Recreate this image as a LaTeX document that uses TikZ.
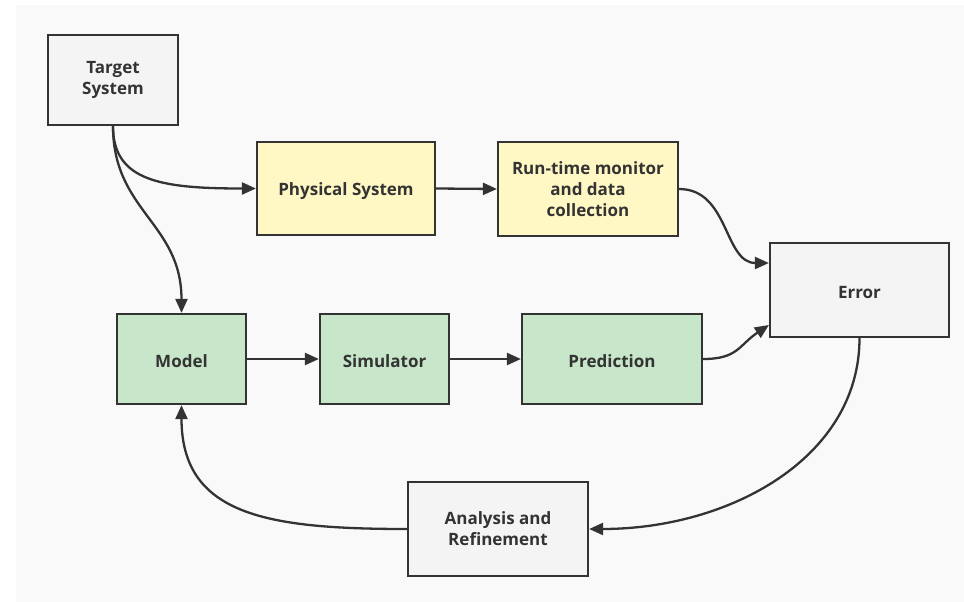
\documentclass[tikz,border=0pt]{standalone}
\usepackage{fontspec}
\setmainfont{Open Sans}
\usetikzlibrary{arrows.meta}
\definecolor{panelbg}{HTML}{F9F9F9}
\definecolor{greybox}{HTML}{F4F4F4}
\definecolor{yellowbox}{HTML}{FFF8C4}
\definecolor{greenbox}{HTML}{C8E6C9}
\definecolor{ink}{HTML}{333333}
\tikzset{
  block/.style={draw=ink, line width=2.2pt, text=ink, align=center,
    font=\fontsize{17}{21}\selectfont\bfseries, inner sep=0pt,
    execute at begin node={\rule{0pt}{18pt}}},
  greyblock/.style={block, fill=greybox},
  yellowblock/.style={block, fill=yellowbox},
  greenblock/.style={block, fill=greenbox},
  link/.style={draw=ink, line width=2.3pt,
    -{Triangle[length=14pt,width=12pt]}}
}
\begin{document}
\begin{tikzpicture}[x=1pt, y=-1pt]
  % canvas and panel
  \fill[white] (0,0) rectangle (964,602);
  \useasboundingbox (0,0) rectangle (964,602);
  \fill[panelbg] (16,5) rectangle (964,602);

  % blocks
  \node[greyblock, minimum width=130pt, minimum height=90pt] (target) at (113,80) {Target\\System};
  \node[yellowblock, minimum width=178pt, minimum height=93pt] (phys) at (346,188.5) {Physical System};
  \node[yellowblock, minimum width=180pt, minimum height=94pt] (mon) at (588,189) {Run-time monitor\\and data\\collection};
  \node[greyblock, minimum width=179pt, minimum height=94pt] (err) at (859.5,290) {Error};
  \node[greenblock, minimum width=129pt, minimum height=90pt] (model) at (181.5,359) {Model};
  \node[greenblock, minimum width=129pt, minimum height=90pt] (sim) at (384.5,359) {Simulator};
  \node[greenblock, minimum width=180pt, minimum height=90pt] (pred) at (612,359) {Prediction};
  \node[greyblock, minimum width=180pt, minimum height=94pt] (ana) at (498,529) {Analysis and\\Refinement};

  % connectors
  \draw[link] (target.south) .. controls +(0,55) and +(-95,0) .. (phys.west);
  \draw[link] (target.south) .. controls +(0,85) and +(0,-90) .. (model.north);
  \draw[link] (phys.east) -- (mon.west);
  \draw[link] (mon.east) .. controls +(50,0) and +(-45,0) .. ([yshift=27pt]err.west);
  \draw[link] (model.east) -- (sim.west);
  \draw[link] (sim.east) -- (pred.west);
  \draw[link] (pred.east) .. controls +(35,0) and +(-30,20) .. ([yshift=-35pt]err.west);
  \draw[link] (err.south) .. controls +(0,120) and +(140,0) .. (ana.east);
  \draw[link] (ana.west) .. controls +(-140,0) and +(0,110) .. (model.south);
\end{tikzpicture}
\end{document}
